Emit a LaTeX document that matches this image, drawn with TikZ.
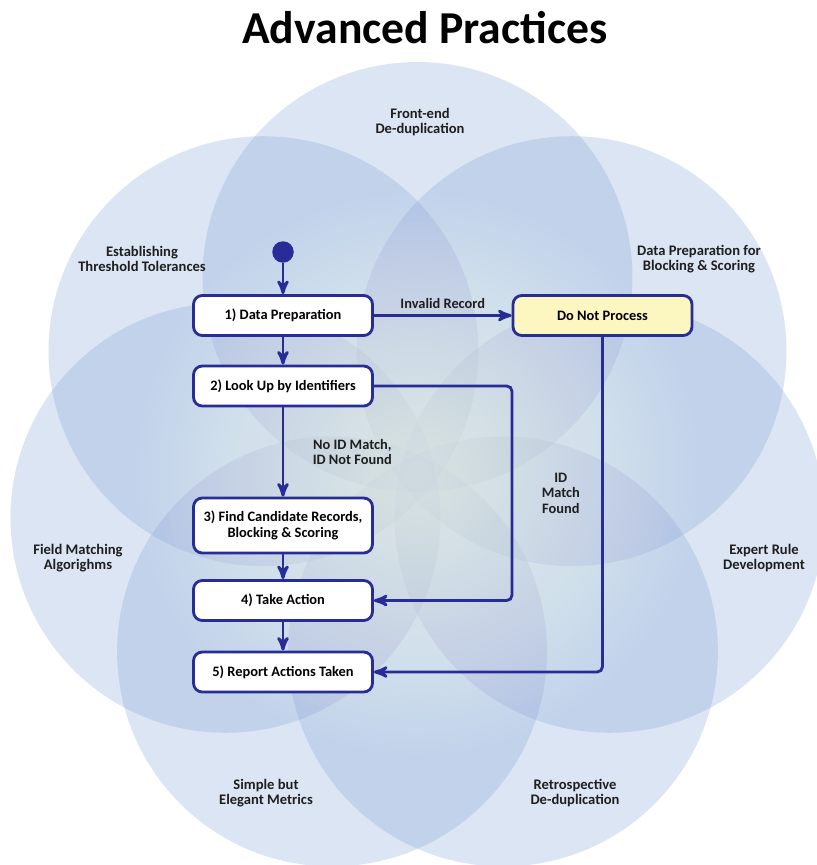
\documentclass[tikz,border=0pt]{standalone}
\usepackage{fontspec}
\setmainfont{Carlito}
\usetikzlibrary{shapes,arrows}
\usetikzlibrary{positioning}

\definecolor{flowblue}{RGB}{40,44,150}
\definecolor{petalblue}{RGB}{112,150,210}
\definecolor{noteyellow}{RGB}{252,246,192}

\begin{document}
\begin{tikzpicture}[>=stealth', x=0.02cm, y=-0.02cm]

    \tikzstyle{petal}=[fill=petalblue, fill opacity=0.24];
    \tikzstyle{petaltext}=[align=center, text=black!88, font=\bfseries\fontsize{8.3}{8.6}\selectfont];
    \tikzstyle{stage}=[draw=flowblue, line width=1.6pt, rounded corners=5pt, fill=white, minimum width=3.58cm, minimum height=0.8cm, align=center, font=\bfseries\fontsize{8.2}{9.2}\selectfont];
    \tikzstyle{flow}=[draw=flowblue, line width=1.6pt];
    \tikzstyle{flowtext}=[align=center, text=black!88, font=\bfseries\fontsize{8.2}{8.8}\selectfont];

    \clip (0,0) rectangle (817,865);
    \fill [white] (0,0) rectangle (817,865);

    % seven petals round the middle
    \foreach \k in {0,...,6}
      \fill [petal] (417.5,474) ++({270+\k*360/7}:197) circle [radius=4.3cm];
    \foreach \g in {1,...,40}
      \fill [white, opacity=0.033] (417.5,474) circle [radius=0.14cm*\g];

    \node (title) at (425,28) {\bfseries\fontsize{26}{30}\selectfont Advanced Practices};

    \node [petaltext] (frontend) at (420,122) {Front-end\\De-duplication};
    \node [petaltext] (thresholds) at (142,259) {Establishing\\Threshold Tolerances};
    \node [petaltext] (blockprep) at (699,259) {Data Preparation for\\Blocking \& Scoring};
    \node [petaltext] (fieldmatch) at (78,558) {Field Matching\\Algorighms};
    \node [petaltext] (expertrule) at (764,558) {Expert Rule\\Development};
    \node [petaltext] (metrics) at (266,793) {Simple but\\Elegant Metrics};
    \node [petaltext] (retro) at (575,793) {Retrospective\\De-duplication};

    \node [circle, fill=flowblue, minimum size=0.43cm, inner sep=0pt] (start) at (283,252) {};
    \node [stage] (prep) at (283,315.5) {1) Data Preparation};
    \node [stage] (lookup) at (283,386) {2) Look Up by Identifiers};
    \node [stage, minimum height=1.1cm] (find) at (283,525.5) {3) Find Candidate Records,\\Blocking \& Scoring};
    \node [stage] (act) at (283,600.5) {4) Take Action};
    \node [stage] (report) at (283,672) {5) Report Actions Taken};
    \node [stage, fill=noteyellow] (skip) at (602.5,315.5) {Do Not Process};
    \coordinate (idturn) at (512,386);

    \draw [flow, ->] (start) -- (prep);
    \draw [flow, ->] (prep) -- (lookup);
    \draw [flow, ->] (lookup) -- node [flowtext, right=0.45cm] {No ID Match,\\ID Not Found} (find);
    \draw [flow, ->] (find) -- (act);
    \draw [flow, ->] (act) -- (report);
    \draw [flow, ->] (prep) -- node [flowtext, above] {Invalid Record} (skip);
    \draw [flow, ->, rounded corners=3pt] (lookup.east) -- (idturn) -- node [flowtext, right=0.45cm] {ID\\Match\\Found} (idturn |- act) -- (act.east);
    \draw [flow, ->, rounded corners=3pt] (skip.south) |- (report.east);

\end{tikzpicture}
\end{document}
